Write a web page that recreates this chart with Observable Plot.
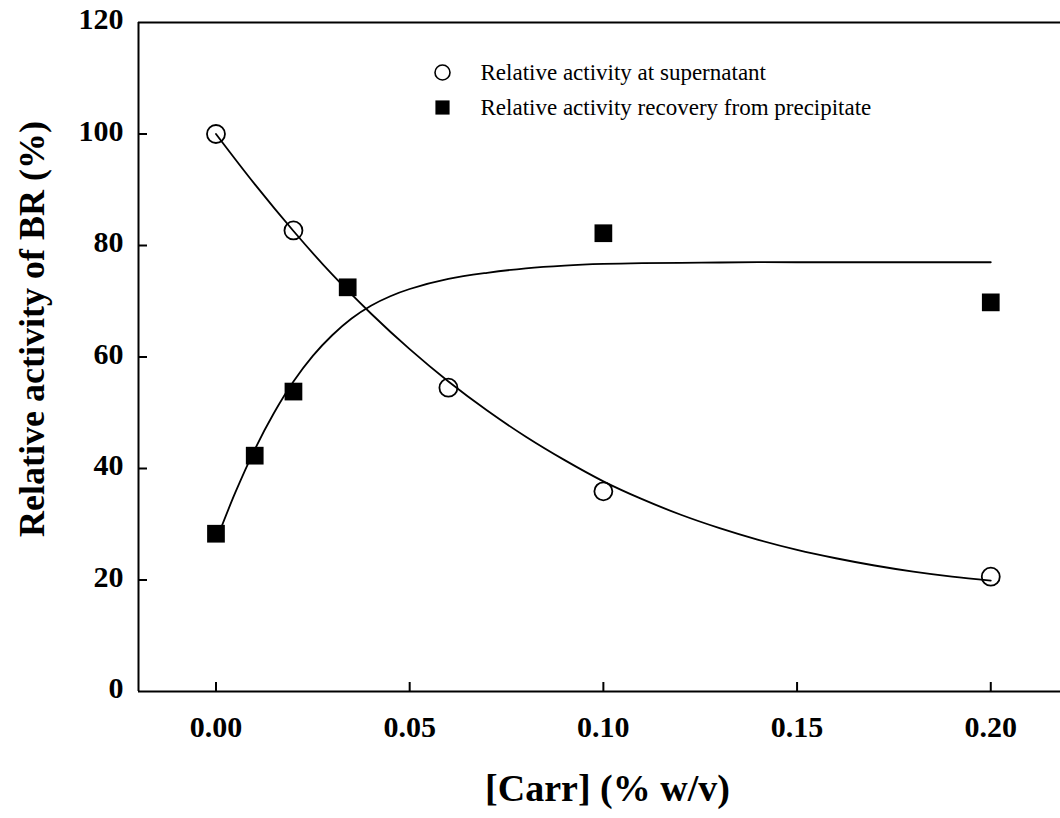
<!DOCTYPE html>
<html>
<head>
<meta charset="utf-8">
<script src="https://cdn.jsdelivr.net/npm/d3@7"></script>
<script src="https://cdn.jsdelivr.net/npm/@observablehq/plot@0.6"></script>
<style>
  html, body { margin: 0; padding: 0; background: white; overflow: hidden; }
</style>
</head>
<body>
<div id="chart"></div>
<script>
// Measured points: relative activity at supernatant (open circles)
const supConc = [0, 0.02, 0.06, 0.10, 0.20];
const supAct  = [100, 82.7, 54.5, 35.9, 20.6];

// Measured points: relative activity recovery from precipitate (filled squares)
const preConc = [0, 0.01, 0.02, 0.034, 0.10, 0.20];
const preAct  = [28.3, 42.3, 53.8, 72.5, 82.2, 69.8];

// Fitted curve: supernatant
const supFitConc = [0, 0.01, 0.02, 0.03, 0.04, 0.05, 0.06, 0.07, 0.08, 0.09, 0.10,
                    0.11, 0.12, 0.13, 0.14, 0.15, 0.16, 0.17, 0.18, 0.19, 0.20];
const supFitAct  = [100, 91.0, 82.6, 74.8, 67.8, 61.4, 55.6, 50.4, 45.7, 41.5, 37.7,
                    34.5, 31.7, 29.3, 27.2, 25.4, 23.9, 22.6, 21.5, 20.6, 19.9];

// Fitted curve: precipitate
const preFitConc = [0, 0.005, 0.01, 0.015, 0.02, 0.025, 0.03, 0.035, 0.04, 0.045, 0.05,
                    0.06, 0.07, 0.08, 0.09, 0.10, 0.11, 0.12, 0.13, 0.14, 0.15, 0.16, 0.17, 0.18, 0.19, 0.20];
const preFitAct  = [27.0, 35.7, 43.4, 50.0, 55.6, 60.2, 63.9, 66.9, 69.2, 70.9, 72.2,
                    74.0, 75.1, 75.9, 76.4, 76.7, 76.85, 76.9, 76.95, 77.0, 77.0, 77.0, 77.0, 77.0, 77.0, 77.0];

// Axis ticks
const xTicks = [0, 0.05, 0.10, 0.15, 0.20];
const yTicks = [0, 20, 40, 60, 80, 100, 120];
const yInnerTicks = [20, 40, 60, 80, 100];

// Labels
const xLabel = "[Carr] (% w/v)";
const yLabel = "Relative activity of BR (%)";
const legendSup = "Relative activity at supernatant";
const legendPre = "Relative activity recovery from precipitate";

const sup = supConc.map((c, i) => ({c, a: supAct[i]}));
const pre = preConc.map((c, i) => ({c, a: preAct[i]}));
const supFit = supFitConc.map((c, i) => ({c, a: supFitAct[i]}));
const preFit = preFitConc.map((c, i) => ({c, a: preFitAct[i]}));

const W = 1060, H = 818;
const mL = 138, mR = 0, mT = 22, mB = 127;
const frameW = W - mL - mR, frameH = H - mT - mB;
const serif = "'Liberation Serif', 'Times New Roman', Times, serif";

const chart = Plot.plot({
  width: W,
  height: H,
  marginLeft: mL,
  marginRight: mR,
  marginTop: mT,
  marginBottom: mB,
  style: {fontFamily: serif, color: "black", background: "white", maxWidth: "none"},
  x: {domain: [-0.02, 0.218]},
  y: {domain: [0, 120]},
  marks: [
    // frame
    Plot.ruleY([0, 120], {stroke: "black", strokeWidth: 2}),
    Plot.ruleX([-0.02], {stroke: "black", strokeWidth: 2}),
    // inward ticks
    Plot.tickY(yInnerTicks, {y: d => d, insetRight: frameW - 9, stroke: "black", strokeWidth: 2}),
    Plot.tickX(xTicks, {x: d => d, insetTop: frameH - 9, stroke: "black", strokeWidth: 2}),
    // tick labels
    Plot.axisX(xTicks, {tickSize: 0, tickPadding: 24, tickFormat: d3.format(".2f"), fontSize: 30, fontWeight: "bold", label: null}),
    Plot.axisY(yTicks, {tickSize: 0, tickPadding: 15, fontSize: 30, fontWeight: "bold", dy: -3, label: null}),
    // axis titles
    Plot.text([xLabel], {frameAnchor: "bottom", textAnchor: "middle", lineAnchor: "middle", dx: 8, dy: 97, fontSize: 38, fontWeight: "bold", fill: "black"}),
    Plot.text([yLabel], {frameAnchor: "left", textAnchor: "middle", lineAnchor: "middle", dx: -106, dy: -28, rotate: -90, fontSize: 36, fontWeight: "bold", fill: "black"}),
    // fitted curves
    Plot.line(supFit, {x: "c", y: "a", curve: "catmull-rom", stroke: "black", strokeWidth: 1.8}),
    Plot.line(preFit, {x: "c", y: "a", curve: "catmull-rom", stroke: "black", strokeWidth: 1.8}),
    // data points
    Plot.dot(pre, {x: "c", y: "a", symbol: "square", r: 10, fill: "black", stroke: "none"}),
    Plot.dot(sup, {x: "c", y: "a", symbol: "circle", r: 9, fill: "none", stroke: "black", strokeWidth: 1.8}),
    // legend
    Plot.dot([legendSup], {frameAnchor: "top-left", dx: 304, dy: 50, symbol: "circle", r: 7.5, fill: "none", stroke: "black", strokeWidth: 1.6}),
    Plot.dot([legendPre], {frameAnchor: "top-left", dx: 304, dy: 85, symbol: "square", r: 8, fill: "black", stroke: "none"}),
    Plot.text([legendSup], {frameAnchor: "top-left", textAnchor: "start", lineAnchor: "middle", dx: 342, dy: 50.6, fontSize: 23, fontWeight: "normal", fill: "black"}),
    Plot.text([legendPre], {frameAnchor: "top-left", textAnchor: "start", lineAnchor: "middle", dx: 342, dy: 85.6, fontSize: 23, fontWeight: "normal", fill: "black"})
  ]
});
document.getElementById("chart").append(chart);
</script>
</body>
</html>
